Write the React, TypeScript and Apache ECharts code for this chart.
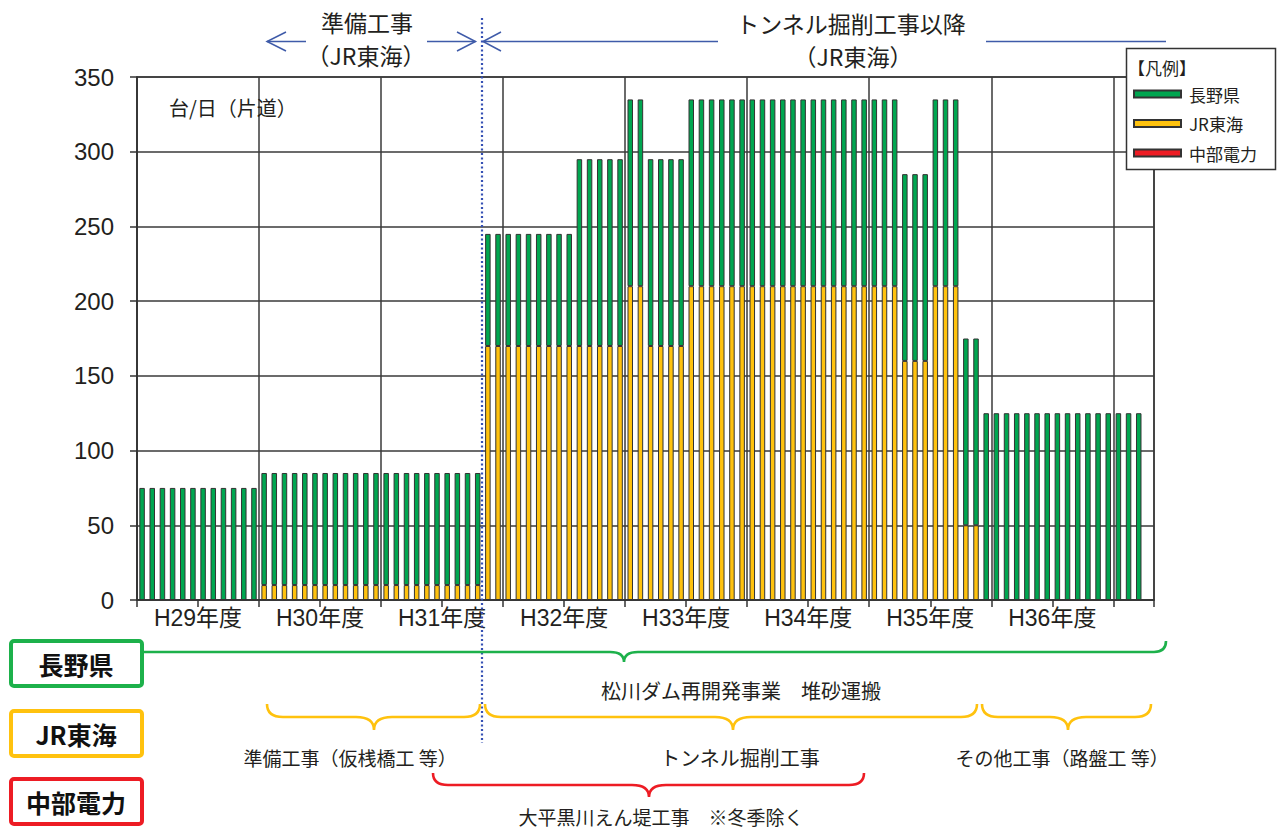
import React, { useEffect, useRef } from 'react';
import * as echarts from 'echarts';

const fiscalYears = ['H29年度', 'H30年度', 'H31年度', 'H32年度', 'H33年度', 'H34年度', 'H35年度', 'H36年度'];
const months = ['4月', '5月', '6月', '7月', '8月', '9月', '10月', '11月', '12月', '1月', '2月', '3月'];
const extraMonths = ['H37年度4月', 'H37年度5月', 'H37年度6月', 'H37年度7月'];
const categories = [...fiscalYears.flatMap((y) => months.map((m) => y + m)), ...extraMonths];

const seriesNames = ['長野県', 'JR東海', '中部電力'];

// 長野県 (upper part of each stacked bar)
const naganoValues = [
  75, 75, 75, 75, 75, 75, 75, 75, 75, 75, 75, 75, // H29
  75, 75, 75, 75, 75, 75, 75, 75, 75, 75, 75, 75, // H30
  75, 75, 75, 75, 75, 75, 75, 75, 75, 75, 75, 75, // H31
  75, 75, 75, 75, 75, 75, 75, 125, 125, 125, 125, 125, // H32
  125, 125, 125, 125, 125, 125, 125, 125, 125, 125, 125, 125, // H33
  125, 125, 125, 125, 125, 125, 125, 125, 125, 125, 125, 125, // H34
  125, 125, 125, 125, 125, 125, 125, 125, 125, 125, 125, 125, // H35
  125, 125, 125, 125, 125, 125, 125, 125, 125, 125, 125, 125, // H36
  125, 125, 125, null, // H37
];

// JR東海 (lower part)
const jrValues = [
  null, null, null, null, null, null, null, null, null, null, null, null, // H29
  10, 10, 10, 10, 10, 10, 10, 10, 10, 10, 10, 10, // H30
  10, 10, 10, 10, 10, 10, 10, 10, 10, 10, 170, 170, // H31
  170, 170, 170, 170, 170, 170, 170, 170, 170, 170, 170, 170, // H32
  210, 210, 170, 170, 170, 170, 210, 210, 210, 210, 210, 210, // H33
  210, 210, 210, 210, 210, 210, 210, 210, 210, 210, 210, 210, // H34
  210, 210, 210, 160, 160, 160, 210, 210, 210, 50, 50, null, // H35
  null, null, null, null, null, null, null, null, null, null, null, null, // H36
  null, null, null, null, // H37
];

// 中部電力 (no visible bars)
const chubuValues: (number | null)[] = [];

const yMin = 0;
const yMax = 350;
const yInterval = 50;

const topLabels = {
  prep: '準備工事',
  prepSub: '（JR東海）',
  tunnel: 'トンネル掘削工事以降',
  tunnelSub: '（JR東海）',
  unit: '台/日（片道）',
  legendTitle: '【凡例】',
};

const bottomLabels = {
  nagano: '長野県',
  jr: 'JR東海',
  chubu: '中部電力',
  matsukawa: '松川ダム再開発事業　堆砂運搬',
  prepWork: '準備工事（仮桟橋工 等）',
  tunnelWork: 'トンネル掘削工事',
  otherWork: 'その他工事（路盤工 等）',
  dam: '大平黒川えん堤工事　※冬季除く',
};

const GREEN = '#00A650';
const YELLOW = '#FFC20E';
const RED = '#ED1C24';
const BLUE = '#3F5BA9';
const CJK = '"Noto Sans CJK JP", sans-serif';
const LATIN = '"Liberation Sans", Arial, "Noto Sans CJK JP", sans-serif';

let registered = false;
function registerBrace() {
  if (registered) return;
  registered = true;
  const Brace = (echarts.graphic as any).extendShape({
    type: 'brace',
    shape: { x1: 0, x2: 0, xm: 0, y0: 0, yl: 0, yt: 0, rx: 14, cx: 16, straightLeft: 0 },
    buildPath(ctx: any, s: any) {
      if (s.straightLeft) {
        ctx.moveTo(s.x1, s.yl);
      } else {
        ctx.moveTo(s.x1, s.y0);
        ctx.quadraticCurveTo(s.x1, s.yl, s.x1 + s.rx, s.yl);
      }
      ctx.lineTo(s.xm - s.cx, s.yl);
      ctx.quadraticCurveTo(s.xm, s.yl, s.xm, s.yt);
      ctx.quadraticCurveTo(s.xm, s.yl, s.xm + s.cx, s.yl);
      ctx.lineTo(s.x2 - s.rx, s.yl);
      ctx.quadraticCurveTo(s.x2, s.yl, s.x2, s.y0);
    },
  });
  echarts.graphic.registerShape('brace', Brace);
}

function txt(text: string, x: number, y: number, fontSize: number, opts: any = {}) {
  return {
    type: 'text',
    x,
    y,
    z: 20,
    style: {
      text,
      fontSize,
      lineHeight: fontSize,
      fontFamily: opts.fontFamily || CJK,
      fontWeight: opts.fontWeight || 'normal',
      fill: opts.fill || '#231F20',
      align: opts.align || 'center',
      verticalAlign: 'middle',
    },
  };
}

function line(x1: number, y1: number, x2: number, y2: number, stroke: string, lineWidth: number, extra: any = {}) {
  return {
    type: 'line',
    z: 20,
    shape: { x1, y1, x2, y2 },
    style: { stroke, lineWidth, ...extra },
  };
}

function head(points: number[][]) {
  return {
    type: 'polyline',
    z: 20,
    shape: { points },
    style: { stroke: BLUE, lineWidth: 1.5, fill: 'none' },
  };
}

function brace(shape: any, stroke: string) {
  return {
    type: 'brace',
    z: 20,
    shape,
    style: { stroke, lineWidth: 2.6, fill: 'none' },
  };
}

function box(y: number, stroke: string, label: string) {
  return [
    {
      type: 'rect',
      z: 20,
      shape: { x: 11, y, width: 131, height: 45, r: 3 },
      style: { fill: '#fff', stroke, lineWidth: 4 },
    },
    txt(label, 76, y + 23, 25, { fontWeight: 'bold', fill: '#111' }),
  ];
}

export default function App() {
  const ref = useRef<HTMLDivElement>(null);

  useEffect(() => {
    document.body.style.margin = '0';
    registerBrace();
    if (!ref.current) return;
    const chart = echarts.init(ref.current, null, { renderer: 'svg' });

    const barStyle = (color: string) => ({ color, borderColor: '#333', borderWidth: 1 });

    const option: any = {
      animation: false,
      backgroundColor: '#fff',
      grid: {
        left: 137,
        right: 124,
        top: 77,
        bottom: 228,
        show: true,
        borderColor: '#3a3a3a',
        borderWidth: 1.5,
      },
      legend: {
        data: seriesNames,
        orient: 'vertical',
        left: 1133,
        top: 85.5,
        padding: 0,
        itemWidth: 47,
        itemHeight: 7,
        itemGap: 12.5,
        icon: 'rect',
        selectedMode: false,
        z: 10,
        textStyle: {
          fontSize: 17,
          lineHeight: 17,
          color: '#231F20',
          fontFamily: CJK,
          padding: [0, 0, 0, 3],
        },
      },
      xAxis: [
        {
          type: 'category',
          data: categories,
          boundaryGap: true,
          axisLine: { show: true, lineStyle: { color: '#333', width: 1.5 } },
          axisTick: { show: true, interval: 5, length: 7, lineStyle: { color: '#333', width: 1.5 } },
          axisLabel: { show: false },
          splitLine: { show: true, interval: 11, lineStyle: { color: '#3a3a3a', width: 1.5 } },
        },
        {
          type: 'value',
          position: 'bottom',
          min: 0,
          max: categories.length,
          interval: 6,
          axisLine: { show: false },
          axisTick: { show: false },
          splitLine: { show: false },
          axisLabel: {
            show: true,
            margin: 6,
            fontSize: 23,
            color: '#231F20',
            fontFamily: LATIN,
            formatter: (v: number) => {
              if (v % 12 !== 6) return '';
              const idx = (v - 6) / 12;
              return fiscalYears[idx] || '';
            },
          },
        },
      ],
      yAxis: {
        type: 'value',
        min: yMin,
        max: yMax,
        interval: yInterval,
        axisLine: { show: true, lineStyle: { color: '#333', width: 1.5 } },
        axisTick: { show: true, length: 7, lineStyle: { color: '#333', width: 1.5 } },
        axisLabel: { margin: 23, fontSize: 24, color: '#231F20', fontFamily: LATIN },
        splitLine: { show: true, lineStyle: { color: '#3a3a3a', width: 1.5 } },
      },
      series: [
        {
          name: seriesNames[1],
          type: 'bar',
          stack: 'total',
          xAxisIndex: 0,
          barWidth: 5.5,
          data: jrValues,
          itemStyle: barStyle(YELLOW),
        },
        {
          name: seriesNames[0],
          type: 'bar',
          stack: 'total',
          xAxisIndex: 0,
          barWidth: 5.5,
          data: naganoValues,
          itemStyle: barStyle(GREEN),
        },
        {
          name: seriesNames[2],
          type: 'bar',
          stack: 'total',
          xAxisIndex: 0,
          barWidth: 5.5,
          data: chubuValues,
          itemStyle: barStyle(RED),
        },
      ],
      graphic: [
        // legend frame
        {
          type: 'rect',
          z: 3,
          shape: { x: 1126.5, y: 48.5, width: 149, height: 121 },
          style: { fill: '#fff', stroke: '#333', lineWidth: 1.5 },
        },
        txt(topLabels.legendTitle, 1128, 67, 17, { align: 'left' }),
        // unit
        txt(topLabels.unit, 169, 107, 20, { align: 'left' }),
        // top annotations
        txt(topLabels.prep, 367, 22, 23),
        txt(topLabels.prepSub, 366, 55, 23),
        txt(topLabels.tunnel, 851, 23, 23),
        txt(topLabels.tunnelSub, 853, 56, 23),
        line(267, 41.5, 306, 41.5, BLUE, 1.5),
        head([[286, 32], [267, 41.5], [286, 51]]),
        line(427, 41.5, 475.5, 41.5, BLUE, 1.5),
        head([[457, 32], [475.5, 41.5], [457, 51]]),
        line(483, 41.5, 718, 41.5, BLUE, 1.5),
        head([[501, 32], [483, 41.5], [501, 51]]),
        line(986, 41.5, 1166, 41.5, BLUE, 1.5),
        // dotted divider
        line(482, 18, 482, 743, '#3550B4', 2.2, { lineDash: [2, 2.5] }),
        // left boxes
        ...box(641, '#1DB14B', bottomLabels.nagano),
        ...box(711, YELLOW, bottomLabels.jr),
        ...box(779, RED, bottomLabels.chubu),
        // braces
        brace({ x1: 143, x2: 1166, xm: 624, y0: 641, yl: 652, yt: 662, rx: 12, cx: 14, straightLeft: 1 }, '#1DB14B'),
        brace({ x1: 267, x2: 480, xm: 374, y0: 704, yl: 717, yt: 730, rx: 16, cx: 18, straightLeft: 0 }, YELLOW),
        brace({ x1: 485, x2: 977, xm: 733, y0: 704, yl: 717, yt: 730, rx: 16, cx: 18, straightLeft: 0 }, YELLOW),
        brace({ x1: 982, x2: 1151, xm: 1068, y0: 704, yl: 717, yt: 730, rx: 16, cx: 18, straightLeft: 0 }, YELLOW),
        brace({ x1: 433, x2: 864, xm: 649, y0: 773, yl: 785, yt: 797, rx: 15, cx: 17, straightLeft: 0 }, RED),
        // bottom texts
        txt(bottomLabels.matsukawa, 741, 690, 20),
        txt(bottomLabels.prepWork, 350, 757, 19),
        txt(bottomLabels.tunnelWork, 740, 757, 20),
        txt(bottomLabels.otherWork, 1062, 757, 19),
        txt(bottomLabels.dam, 661, 816, 19),
      ],
    };

    chart.setOption(option);
    return () => {
      chart.dispose();
    };
  }, []);

  return <div ref={ref} style={{ width: 1278, height: 828 }} />;
}
